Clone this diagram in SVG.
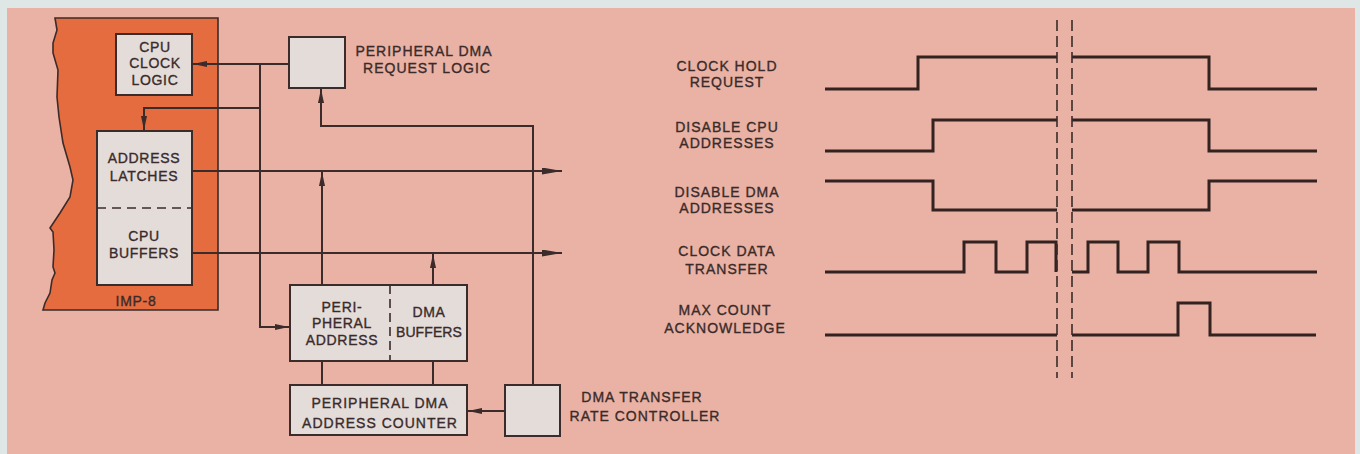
<svg xmlns="http://www.w3.org/2000/svg" width="1360" height="454" viewBox="0 0 1360 454">
<defs>
<style>
.box{fill:#e4dcd9;stroke:#3b2b2a;stroke-width:2}
.ln{fill:none;stroke:#3b2b2a;stroke-width:2}
.wv{fill:none;stroke:#33221f;stroke-width:3;stroke-linejoin:miter}
.brk{fill:none;stroke:#3b2b2a;stroke-width:1.6;stroke-dasharray:11 5}
.t{font-family:"Liberation Sans",Arial,sans-serif;font-size:14px;fill:#3a2b2a;stroke:#3a2b2a;stroke-width:0.35;letter-spacing:1px;text-anchor:middle}
.tb{font-family:"Liberation Sans",Arial,sans-serif;font-size:14px;fill:#3a2b2a;stroke:#3a2b2a;stroke-width:0.35;letter-spacing:0.7px;text-anchor:middle}
</style>
<marker id="ah" markerWidth="14" markerHeight="6" refX="14" refY="3" orient="auto" markerUnits="userSpaceOnUse">
<path d="M0,0 L14,3 L0,6 z" fill="#3b2b2a"/>
</marker>
<marker id="ahL" markerWidth="20" markerHeight="7" refX="20" refY="3.5" orient="auto" markerUnits="userSpaceOnUse">
<path d="M0,0 L20,3.5 L0,7 z" fill="#3b2b2a"/>
</marker>
</defs>
<rect x="0" y="0" width="1360" height="454" fill="#dfe6e6"/>
<rect x="7" y="8" width="1348" height="446" fill="#e9b2a4"/>

<g id="imp8">
<path d="M55,18 L218,18 L218,310 L43,310 L45,303 L50,293 L52,280 L55,273 L53,267 L54,250 L53,232 L50,228 L60,213 L70,197 L73,180 L70,167 L63,143 L59,117 L57,97 L58,70 L53,53 L53,43 L57,30 Z" fill="#e56c3f" stroke="#3b2b2a" stroke-width="1.6"/>
<text class="tb" x="136" y="306">IMP-8</text>
</g>

<g id="cpu-clock-logic">
<rect class="box" x="116" y="34" width="76" height="61"/>
<text class="tb" x="155" y="52">CPU</text>
<text class="tb" x="155" y="68">CLOCK</text>
<text class="tb" x="155" y="85">LOGIC</text>
</g>

<g id="address-latches-cpu-buffers">
<rect class="box" x="97" y="131" width="95" height="154"/>
<line x1="97" y1="208" x2="192" y2="208" stroke="#3b2b2a" stroke-width="1.6" stroke-dasharray="9 6"/>
<text class="tb" x="144" y="163">ADDRESS</text>
<text class="tb" x="144" y="181">LATCHES</text>
<text class="tb" x="144" y="241">CPU</text>
<text class="tb" x="144" y="258">BUFFERS</text>
</g>

<g id="peripheral-dma-request-logic">
<rect class="box" x="289" y="37" width="56" height="51"/>
<text class="t" x="424" y="56">PERIPHERAL DMA</text>
<text class="t" x="427" y="73">REQUEST LOGIC</text>
</g>

<g id="peripheral-address-dma-buffers">
<rect class="box" x="290" y="285" width="177" height="76"/>
<line x1="390" y1="285" x2="390" y2="361" stroke="#3b2b2a" stroke-width="1.6" stroke-dasharray="9 5"/>
<text class="tb" x="342" y="312">PERI-</text>
<text class="tb" x="342" y="328">PHERAL</text>
<text class="tb" x="342" y="345">ADDRESS</text>
<text class="tb" x="429" y="317">DMA</text>
<text class="tb" x="429" y="337" style="letter-spacing:0.1px">BUFFERS</text>
</g>

<g id="peripheral-dma-address-counter">
<rect class="box" x="290" y="385" width="177" height="50"/>
<text class="t" x="380" y="408">PERIPHERAL DMA</text>
<text class="t" x="380" y="428">ADDRESS COUNTER</text>
</g>

<g id="dma-transfer-rate-controller">
<rect class="box" x="505" y="385" width="55" height="51"/>
<text class="t" x="642" y="402">DMA TRANSFER</text>
<text class="t" x="645" y="421">RATE CONTROLLER</text>
</g>

<g id="connectors">
<path class="ln" d="M289,64 H193" marker-end="url(#ah)"/>
<path class="ln" d="M260,64 V327 H289" marker-end="url(#ah)"/>
<path class="ln" d="M260,108 H144 V130" marker-end="url(#ah)"/>
<path class="ln" d="M192,171 H562" marker-end="url(#ahL)"/>
<path class="ln" d="M322,285 V172" marker-end="url(#ah)"/>
<path class="ln" d="M192,253 H562" marker-end="url(#ahL)"/>
<path class="ln" d="M433,285 V254" marker-end="url(#ah)"/>
<path class="ln" d="M533,385 V126 H321 V89" marker-end="url(#ah)"/>
<path class="ln" d="M322,361 V385"/>
<path class="ln" d="M433,361 V385"/>
<path class="ln" d="M505,411 H468" marker-end="url(#ah)"/>
</g>

<g id="timing-labels">
<text class="t" x="727" y="71">CLOCK HOLD</text>
<text class="t" x="727" y="87">REQUEST</text>
<text class="t" x="727" y="132">DISABLE CPU</text>
<text class="t" x="727" y="148">ADDRESSES</text>
<text class="t" x="727" y="197">DISABLE DMA</text>
<text class="t" x="727" y="213">ADDRESSES</text>
<text class="t" x="727" y="256">CLOCK DATA</text>
<text class="t" x="727" y="274">TRANSFER</text>
<text class="t" x="725" y="315">MAX COUNT</text>
<text class="t" x="725" y="333">ACKNOWLEDGE</text>
</g>

<g id="waveforms">
<path class="wv" d="M825,89 H918 V57 H1057"/>
<path class="wv" d="M1072,57 H1209 V89 H1317"/>
<path class="wv" d="M825,151 H933 V120 H1057"/>
<path class="wv" d="M1072,120 H1209 V151 H1317"/>
<path class="wv" d="M825,181 H933 V210 H1057"/>
<path class="wv" d="M1072,210 H1209 V181 H1317"/>
<path class="wv" d="M825,272 H964 V242 H996 V272 H1027 V242 H1056 V272"/>
<path class="wv" d="M1072,272 H1088 V242 H1118 V272 H1148 V242 H1179 V272 H1317"/>
<path class="wv" d="M825,335 H1057"/>
<path class="wv" d="M1072,335 H1178 V303 H1210 V335 H1316"/>
<line class="brk" x1="1057" y1="20" x2="1057" y2="378"/>
<line class="brk" x1="1072" y1="20" x2="1072" y2="378"/>
</g>
</svg>
